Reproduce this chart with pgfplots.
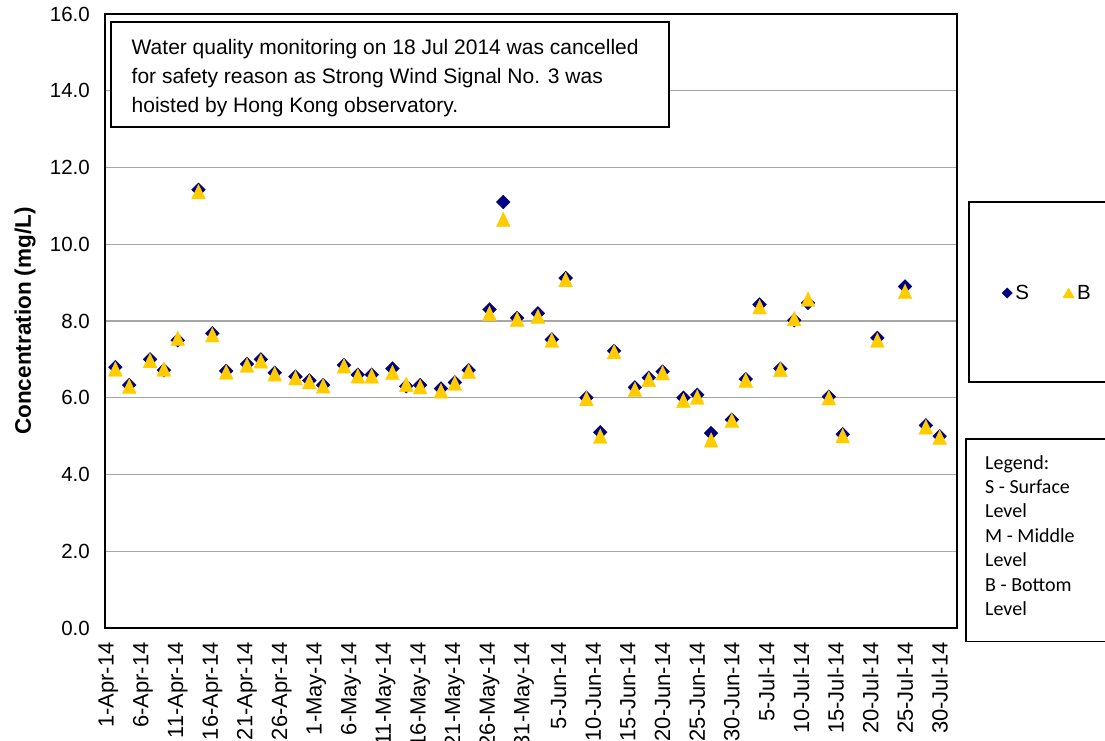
\documentclass[border=0pt]{standalone}
\usepackage{pgfplots}
\pgfplotsset{compat=1.18}
\usepackage{fontspec}
\setmainfont{Liberation Sans}
\newfontfamily\carlito{Carlito}
\definecolor{sNavy}{HTML}{000080}
\definecolor{bYel}{HTML}{FFCC00}
\definecolor{gridg}{HTML}{A6A6A6}
\newcommand\tfont{\fontsize{20.5}{24}\selectfont}
\newcommand\xfont{\fontsize{22}{24}\selectfont}

\pgfplotstableread{
d S B
1 6.80 6.75
3 6.33 6.30
6 7.00 6.97
8 6.72 6.75
10 7.50 7.55
13 11.42 11.37
15 7.68 7.64
17 6.70 6.67
20 6.88 6.85
22 7.00 6.96
24 6.65 6.62
27 6.55 6.52
29 6.45 6.42
31 6.33 6.31
34 6.85 6.83
36 6.60 6.57
38 6.60 6.57
41 6.76 6.66
43 6.30 6.35
45 6.33 6.29
48 6.24 6.18
50 6.40 6.38
52 6.72 6.69
55 8.30 8.20
57 11.10 10.65
59 8.08 8.05
62 8.20 8.12
64 7.52 7.50
66 9.12 9.08
69 6.00 5.98
71 5.10 5.00
73 7.22 7.20
76 6.27 6.22
78 6.52 6.48
80 6.68 6.65
83 6.00 5.93
85 6.08 6.02
87 5.08 4.90
90 5.43 5.41
92 6.49 6.46
94 8.43 8.37
97 6.76 6.74
99 8.02 8.06
101 8.47 8.57
104 6.03 6.00
106 5.05 5.01
111 7.56 7.50
115 8.90 8.77
118 5.28 5.24
120 5.00 4.97
}\data

\begin{document}
\begin{tikzpicture}[x=1pt,y=1pt]
\begin{axis}[
  at={(105pt,112pt)}, anchor=south west, scale only axis,
  width=852pt, height=614pt,
  xmin=-0.5, xmax=122.5, ymin=0, ymax=16,
  axis line style={line width=2pt, black},
  ymajorgrids, grid style={gridg, line width=1.3pt},
  major tick length=0pt, tick style={draw=none},
  ytick={0,2,...,16},
  yticklabel={\pgfmathprintnumber[fixed,fixed zerofill,precision=1,assume math mode=true]{\tick}},
  yticklabel style={font=\tfont, inner sep=0pt, anchor=east},
  yticklabel shift=15pt,
  xtick={0,5,...,120},
  xticklabels={1-Apr-14,6-Apr-14,11-Apr-14,16-Apr-14,21-Apr-14,26-Apr-14,1-May-14,6-May-14,11-May-14,16-May-14,21-May-14,26-May-14,31-May-14,5-Jun-14,10-Jun-14,15-Jun-14,20-Jun-14,25-Jun-14,30-Jun-14,5-Jul-14,10-Jul-14,15-Jul-14,20-Jul-14,25-Jul-14,30-Jul-14},
  xticklabel style={font=\xfont, rotate=90, anchor=east, inner sep=0pt},
  xticklabel shift=14pt,
  ylabel={Concentration (mg/L)},
  ylabel style={font=\fontsize{22.5}{24}\selectfont\bfseries, at={(axis description cs:-0.0939,0.5)}, anchor=center},
  legend columns=2,
  legend style={draw=none, fill=none, at={(axis description cs:1.1068,0.5456)}, anchor=center,
    font=\tfont, nodes={inner xsep=3pt, inner ysep=0pt},
    /tikz/every even column/.append style={column sep=31pt}},
  clip=false,
]
\addplot[only marks, mark=square*, mark size=4.9pt,
  mark options={rotate=45, fill=sNavy, draw=sNavy, line width=0.3pt},
  legend image code/.code={\draw[mark=square*, mark size=3.6pt, mark options={rotate=45, fill=sNavy, draw=sNavy}] plot coordinates {(0pt,0pt)};}]
  table[x=d, y=S] {\data};
\addlegendentry{S}
\addplot[only marks, mark=triangle*, mark size=8pt,
  mark options={yshift=-2.4pt, yscale=1.22, fill=bYel, draw=bYel, line width=0.3pt},
  legend image code/.code={\draw[mark=triangle*, mark size=6.5pt, mark options={yshift=-1.6pt, fill=bYel, draw=bYel}] plot coordinates {(0pt,0pt)};}]
  table[x=d, y=B] {\data};
\addlegendentry{B}
\end{axis}
% annotation box
\draw[line width=1.5pt, fill=white] (111,718) rectangle (669,613);
\node[anchor=base west, inner sep=0pt, font=\fontsize{21}{24}\selectfont] at (131.5,685.7) {Water quality monitoring on 18 Jul 2014 was cancelled};
\node[anchor=base west, inner sep=0pt, font=\fontsize{21}{24}\selectfont] at (131.5,656.7) {for safety reason as Strong Wind Signal No. 3 was};
\node[anchor=base west, inner sep=0pt, font=\fontsize{21}{24}\selectfont] at (131.5,627.7) {hoisted by Hong Kong observatory.};
% legend frames
\draw[line width=1.5pt] (969,538) rectangle (1125,358);
\draw[line width=1.5pt] (966,301) rectangle (1125,98.3);
\foreach \t/\yy in {Legend:/271, S - Surface/246.6, Level/222.2, M - Middle/197.8, Level/173.4, B - Bottom/149, Level/124.6}{
  \node[anchor=base west, inner sep=0pt, font=\carlito\fontsize{20}{24}\selectfont] at (985,\yy) {\t};
}
\pgfresetboundingbox
\path[use as bounding box] (0,0) rectangle (1105,740);
\end{tikzpicture}
\end{document}
